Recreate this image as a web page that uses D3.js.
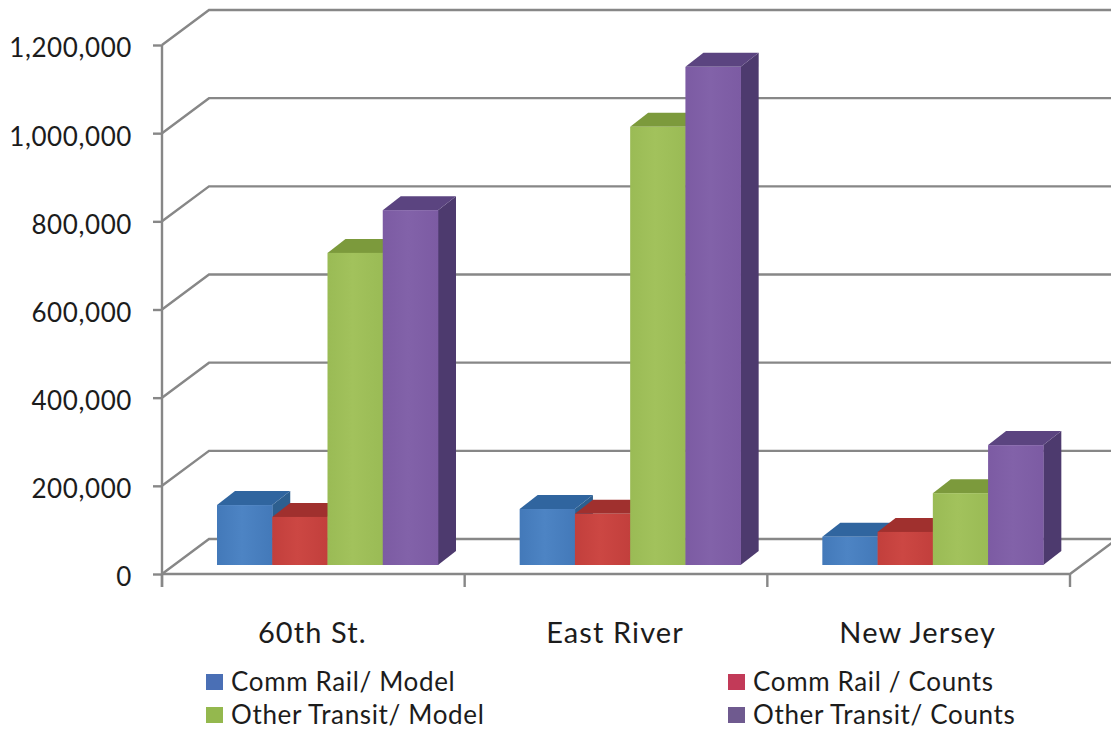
<!DOCTYPE html>
<html>
<head>
<meta charset="utf-8">
<script src="https://cdn.jsdelivr.net/npm/d3@7"></script>
<style>
html,body{margin:0;padding:0;background:#fff;overflow:hidden}
text{font-family:Lato,"Open Sans",sans-serif;fill:#1c1c1c}
</style>
</head>
<body>
<svg id="chart" width="1111" height="730"></svg>
<script>
const categories = ["60th St.", "East River", "New Jersey"];
const seriesNames = ["Comm Rail/ Model", "Comm Rail / Counts", "Other Transit/ Model", "Other Transit/ Counts"];
const commRailModel = [136000, 127000, 64000];
const commRailCounts = [109000, 116000, 75000];
const otherTransitModel = [708000, 994000, 163000];
const otherTransitCounts = [805000, 1130000, 272000];
const yTicks = [0, 200000, 400000, 600000, 800000, 1000000, 1200000];
const seriesValues = [commRailModel, commRailCounts, otherTransitModel, otherTransitCounts];

// One colour set per series: front face, top face, side face, and the lighter mid-tone of the front gradient.
const frontColors = ["#4379b9", "#c23f3c", "#9abb55", "#7c5ba3"];
const frontLight = ["#4d84c4", "#cc4743", "#a2c25c", "#8262a9"];
const topColors = ["#30659f", "#a0302e", "#7c9a3c", "#5b4480"];
const sideColors = ["#2d5f8f", "#8e2c2b", "#6f8a38", "#4d3a6e"];
const legendColors = ["#4a6fb5", "#c23a58", "#94b84e", "#6f5a8f"];

const gridColor = "#878787";
const wall = {dx: 47, dy: -35};      // depth of the chart box
const barDepth = {dx: 18, dy: -14};  // depth of each bar
const barLift = -9;                  // bar feet sit this far above the front floor edge

const svg = d3.select("#chart");

const x = d3.scaleBand().domain(categories).range([162, 1070]);
const y = d3.scaleLinear().domain([0, 1200000]).range([574, 45]);
const inner = d3.scaleBand().domain(d3.range(seriesNames.length))
  .range([55, 276]);

// Side wall diagonals and back wall lines
const grid = svg.append("g").attr("stroke", gridColor).attr("stroke-width", 2.4).attr("fill", "none");
grid.selectAll("path").data(yTicks).join("path")
  .attr("d", t => `M${x.range()[0]},${y(t)}l${wall.dx},${wall.dy}H1111`);
// Front floor edge and the right floor diagonal
grid.append("path")
  .attr("d", `M${x.range()[0]},${y(0)}H${x.range()[1]}l${wall.dx},${wall.dy}`);

// Value axis
const yAxis = d3.axisLeft(y).tickValues(yTicks).tickSize(9).tickPadding(21)
  .tickFormat(d3.format(","));
const yG = svg.append("g").attr("transform", `translate(${x.range()[0]},0)`).call(yAxis);
yG.selectAll(".domain,.tick line").attr("stroke", gridColor).attr("stroke-width", 2.4);
yG.select(".domain").attr("d", `M0,${y(1200000)}V${y(0) + 13}`);
yG.selectAll(".tick text").attr("font-size", 26).attr("font-family", null)
  .attr("dy", "0.46em").style("letter-spacing", "0.6px");

// Category axis with ticks on the band boundaries
const xG = svg.append("g").attr("transform", `translate(0,${y(0)})`);
xG.selectAll("line").data([...categories.map(c => x(c)), x.range()[1]]).join("line")
  .attr("x1", d => d).attr("x2", d => d).attr("y1", 0).attr("y2", 13)
  .attr("stroke", gridColor).attr("stroke-width", 2.4);
xG.selectAll("text").data(categories).join("text")
  .attr("x", d => x(d) + x.bandwidth() / 2 - 1)
  .attr("y", 69)
  .attr("text-anchor", "middle")
  .attr("font-size", 29)
  .style("letter-spacing", "1.1px")
  .text(d => d);

// Subtle horizontal sheen on each front face
const defs = svg.append("defs");
seriesNames.forEach((_, i) => {
  const g = defs.append("linearGradient").attr("id", `front${i}`);
  g.append("stop").attr("offset", "0%").attr("stop-color", frontColors[i]);
  g.append("stop").attr("offset", "45%").attr("stop-color", frontLight[i]);
  g.append("stop").attr("offset", "100%").attr("stop-color", frontColors[i]);
});

// Bars are painted left to right so each one covers the neighbour's side face
const bars = [];
categories.forEach((c, ci) => seriesValues.forEach((vals, si) => bars.push({c, si, v: vals[ci]})));

const barG = svg.append("g");
const w = inner.bandwidth();
const base = y(0) + barLift;
const h = v => y(0) - y(v);

const bar = barG.selectAll("g").data(bars).join("g")
  .attr("transform", d => `translate(${x(d.c) + inner(d.si)},${base})`);
bar.append("path").attr("fill", d => sideColors[d.si])
  .attr("d", d => `M${w},0V${-h(d.v)}l${barDepth.dx},${barDepth.dy}V${barDepth.dy}Z`);
bar.append("path").attr("fill", d => topColors[d.si])
  .attr("d", d => `M0,${-h(d.v)}H${w}l${barDepth.dx},${barDepth.dy}H${barDepth.dx}Z`);
bar.append("rect").attr("fill", d => `url(#front${d.si})`)
  .attr("x", 0).attr("width", w + 0.3)
  .attr("y", d => -h(d.v)).attr("height", d => h(d.v));

// Two-row legend
const legendX = [206, 728];
const legendY = [682, 715];
const legend = svg.append("g").selectAll("g").data(seriesNames).join("g")
  .attr("transform", (d, i) => `translate(${legendX[i % 2]},${legendY[i >> 1]})`);
legend.append("rect").attr("x", 0).attr("y", -8).attr("width", 17).attr("height", 16)
  .attr("fill", (d, i) => legendColors[i]);
legend.append("text").attr("x", 25).attr("y", 8.5)
  .attr("font-size", 26).style("letter-spacing", "0.65px").text(d => d);
</script>
</body>
</html>
